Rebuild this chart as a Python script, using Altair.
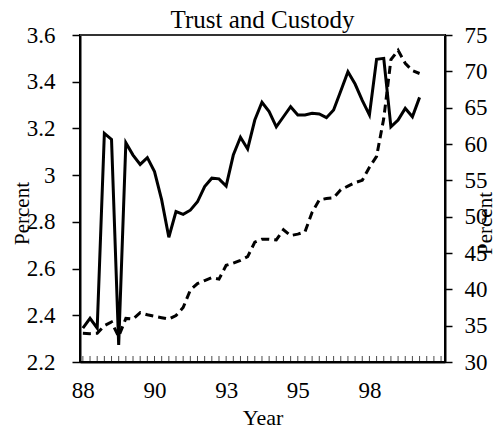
import altair as alt
import pandas as pd

# Quarterly data, 1988Q1 .. 1999Q4 (index 0..47)
solid_vals = [2.345, 2.387, 2.345, 3.179, 3.153, 2.273, 3.139, 3.086, 3.046, 3.075,
              3.015, 2.894, 2.734, 2.844, 2.832, 2.850, 2.886, 2.951, 2.987, 2.984,
              2.953, 3.086, 3.162, 3.112, 3.236, 3.312, 3.272, 3.207, 3.250, 3.293,
              3.258, 3.258, 3.265, 3.262, 3.246, 3.279, 3.360, 3.443, 3.390, 3.320,
              3.258, 3.496, 3.500, 3.207, 3.236, 3.286, 3.250, 3.333]
dashed_vals = [33.95, 33.9, 33.95, 35.0, 35.5, 33.5, 36.0, 35.9, 36.8, 36.5,
               36.3, 36.1, 35.9, 36.4, 37.5, 39.9, 40.8, 41.2, 41.6, 41.4,
               43.3, 43.6, 44.0, 44.5, 46.5, 46.9, 46.9, 46.8, 48.2, 47.4,
               47.6, 47.9, 50.6, 52.3, 52.5, 52.6, 53.7, 54.2, 54.7, 55.0,
               56.8, 58.3, 63.5, 71.6, 72.9, 71.1, 70.1, 69.7]
quarter_index = list(range(len(solid_vals)))

x_label_pos = [0, 10, 20, 30, 40]
x_label_text = ["88", "90", "93", "95", "98"]
minor_tick_pos = list(range(0, 51))

left_ticks = [2.2, 2.4, 2.6, 2.8, 3.0, 3.2, 3.4, 3.6]
right_ticks = [30, 35, 40, 45, 50, 55, 60, 65, 70, 75]

df = pd.DataFrame({"q": quarter_index, "solid": solid_vals, "dashed": dashed_vals})
ticks_df = pd.DataFrame({"q": minor_tick_pos})

FONT = "Liberation Serif"
W, H = 365, 327

label_expr = "".join(
    f"datum.value == {p} ? '{t}' : " for p, t in zip(x_label_pos, x_label_text)
) + "''"

xscale = alt.Scale(domain=[-0.4, 50.55], nice=False, zero=False)

x_axis = alt.Axis(
    values=x_label_pos, labelExpr=label_expr, ticks=False, tickSize=0,
    title="Year", titleFont=FONT, titleFontSize=22, titleFontWeight="normal",
    titleY=62, titleBaseline="alphabetic", titleColor="black",
    labelFont=FONT, labelFontSize=23, labelColor="black", labelPadding=17,
    domainColor="black", domainWidth=2, grid=False,
)

solid = alt.Chart(df).mark_line(color="black", strokeWidth=3).encode(
    x=alt.X("q:Q", scale=xscale, axis=x_axis),
    y=alt.Y("solid:Q", scale=alt.Scale(domain=[2.2, 3.6], nice=False, zero=False),
            axis=alt.Axis(values=left_ticks, format="~g", orient="left",
                          title="Percent", titleFont=FONT, titleFontSize=21,
                          titleFontWeight="normal", titleColor="black",
                          titleAngle=270, titleX=-58, titleY=178,
                          titleAlign="center", titleBaseline="middle",
                          labelFont=FONT, labelFontSize=23, labelColor="black",
                          labelPadding=17, tickSize=8, tickColor="black", tickWidth=1.5,
                          domainColor="black", domainWidth=2, grid=False)),
)

dashed = alt.Chart(df).mark_line(color="black", strokeWidth=3, strokeDash=[8, 5]).encode(
    x=alt.X("q:Q", scale=xscale, axis=x_axis),
    y=alt.Y("dashed:Q", scale=alt.Scale(domain=[30, 75], nice=False, zero=False),
            axis=alt.Axis(values=right_ticks, orient="right",
                          title="Percent", titleFont=FONT, titleFontSize=21,
                          titleFontWeight="normal", titleColor="black",
                          titleAngle=270, titleX=40, titleY=188,
                          titleAlign="center", titleBaseline="middle",
                          labelFont=FONT, labelFontSize=23, labelColor="black",
                          labelPadding=12, tickSize=7, tickColor="black", tickWidth=1.5,
                          domainColor="black", domainWidth=2, grid=False)),
)

minor = alt.Chart(ticks_df).mark_tick(color="black", thickness=1, size=6).encode(
    x=alt.X("q:Q", scale=xscale, axis=x_axis),
    y=alt.value(H - 3),
)

top_border = alt.Chart(ticks_df).mark_rule(color="#333333", strokeWidth=2).encode(
    x=alt.value(0), x2=alt.value(W), y=alt.value(0),
)

chart = alt.layer(top_border, minor, solid, dashed).resolve_scale(y="independent").properties(
    width=W, height=H,
    title=alt.TitleParams("Trust and Custody", font=FONT, fontSize=25, fontWeight="normal",
                          color="black", anchor="middle", frame="group",
                          baseline="alphabetic", offset=0, dy=29),
    autosize=alt.AutoSizeParams(type="none"),
    padding={"left": 72, "top": 27, "right": 51, "bottom": 66},
    background="white",
).configure_view(stroke="black", strokeWidth=2)

chart.save("out.html", embed_options={"renderer": "svg", "actions": False})
